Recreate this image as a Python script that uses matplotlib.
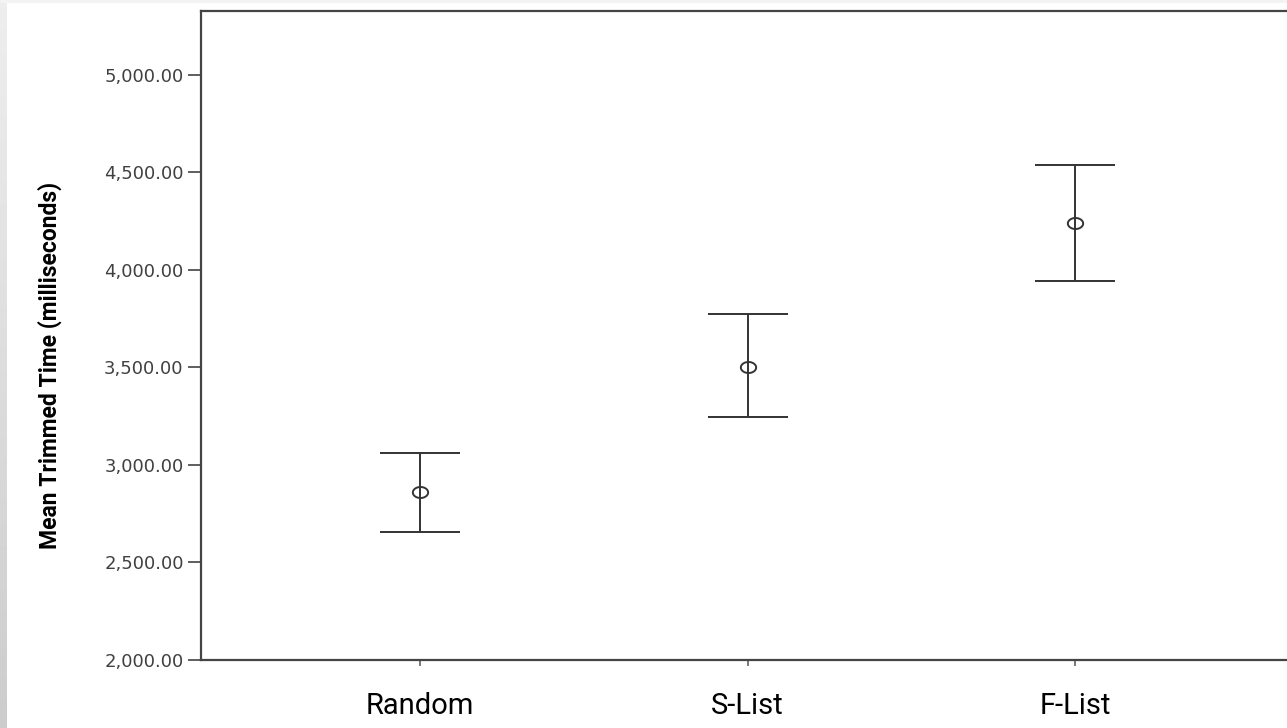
import numpy as np
import matplotlib as mpl
import matplotlib.pyplot as plt
from matplotlib.path import Path

# Data
groups = ['Random', 'S-List', 'F-List']
means = [2862, 3504, 4243]
upper = [3062, 3774, 4538]
lower = [2656, 3245, 3945]
y_ticks = [2000, 2500, 3000, 3500, 4000, 4500, 5000]

W, H = 1287, 728
fig = plt.figure(figsize=(W / 100, H / 100), dpi=100)

# gray strip on the left edge of the slide
bg = fig.add_axes([0, 0, 7 / W, 1])
bg.imshow(np.linspace(0.93, 0.80, 100).reshape(-1, 1), cmap='gray', vmin=0, vmax=1,
          aspect='auto', extent=[0, 1, 0, 1])
bg.axis('off')
top = fig.add_axes([0, 1 - 3 / H, 1, 3 / H])
top.axis('off')
top.add_patch(plt.Rectangle((0, 0), 1, 1, color='#f3f3f3', transform=top.transAxes))

left, right, ytop, ybot = 201, 1294, 11, 660
ax = fig.add_axes([left / W, 1 - ybot / H, (right - left) / W, (ybot - ytop) / H])

x = np.arange(len(groups))
yerr = [np.array(means) - np.array(lower), np.array(upper) - np.array(means)]

# slightly flattened circle like the original marker
t = np.linspace(0, 2 * np.pi, 80)
ellipse = Path(np.column_stack([np.cos(t), 0.72 * np.sin(t)]), closed=True)

ax.errorbar(x, means, yerr=yerr, fmt='none', ecolor='#333333', elinewidth=1.4,
            capsize=29, capthick=1.4)
ax.plot(x, means, linestyle='none', marker=ellipse, markersize=11,
        markerfacecolor='none', markeredgecolor='#333333', markeredgewidth=1.4)

ax.set_xlim(-0.669, 2.669)
ax.set_ylim(2000, 5328)
ax.set_yticks(y_ticks)
ax.set_yticklabels(['{:,.2f}'.format(v) for v in y_ticks], fontsize=13,
                   color='#404040', family='DejaVu Sans')
ax.set_xticks(x)
ax.set_xticklabels(groups, fontsize=21, color='black',
                   family=['Roboto', 'DejaVu Sans'])
ax.tick_params(axis='y', length=9.5, width=1.1, color='#333333', pad=3)
ax.tick_params(axis='x', length=4, width=1.1, color='#555555', pad=19)

for s in ax.spines.values():
    s.set_color('#444444')
    s.set_linewidth(1.6)

fig.text(50 / W, 1 - 365 / H, 'Mean Trimmed Time (milliseconds)', rotation=90,
         ha='center', va='center', fontsize=16.5, fontweight='bold',
         family=['Roboto', 'DejaVu Sans'])

fig.savefig('out.png', dpi=100)
